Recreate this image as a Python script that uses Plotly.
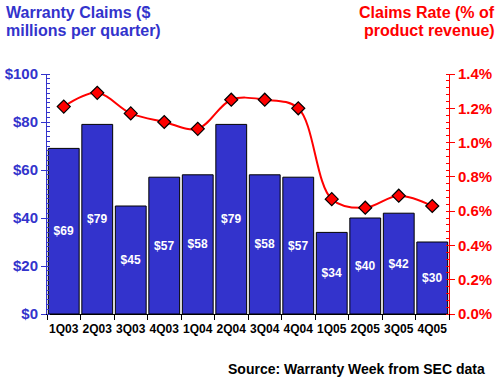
import plotly.graph_objects as go

quarters = ["1Q03", "2Q03", "3Q03", "4Q03", "1Q04", "2Q04", "3Q04", "4Q04",
            "1Q05", "2Q05", "3Q05", "4Q05"]
claims = [69, 79, 45, 57, 58, 79, 58, 57, 34, 40, 42, 30]
rate = [1.21, 1.29, 1.17, 1.12, 1.08, 1.25, 1.25, 1.20, 0.67, 0.62, 0.69, 0.63]

BLUE = "#3333CC"
RED = "#FF0000"
FONT = "Arial, Liberation Sans, sans-serif"

fig = go.Figure()
fig.add_trace(go.Bar(
    x=quarters, y=claims,
    marker=dict(color=BLUE, line=dict(color="black", width=1)),
    text=[f"${v}" for v in claims],
    textposition="inside", insidetextanchor="middle", textangle=0,
    textfont=dict(color="white", size=12, family=FONT, weight="bold"),
    hoverinfo="skip", showlegend=False,
))
fig.add_trace(go.Scatter(
    x=quarters, y=rate, yaxis="y2", mode="lines+markers",
    line=dict(color=RED, width=2, shape="spline", smoothing=1.0),
    marker=dict(symbol="diamond", size=10, color=RED,
                line=dict(color="black", width=1.2)),
    showlegend=False,
))

fig.update_layout(
    width=500, height=380,
    margin=dict(l=47, r=51, t=74, b=66, autoexpand=False),
    paper_bgcolor="white", plot_bgcolor="white",
    bargap=0.08,
    font=dict(family=FONT),
    xaxis=dict(
        showline=True, linecolor="black", linewidth=1,
        ticks="outside", tickson="boundaries", ticklen=5, tickcolor="black",
        tickangle=0, automargin=False, ticklabelstandoff=4,
        tickfont=dict(size=12, color="black", family=FONT, weight="bold"),
        showgrid=False, range=[-0.5, 11.5],
    ),
    yaxis=dict(
        range=[0, 100], dtick=20, tickprefix="$",
        showline=True, linecolor=BLUE, linewidth=1,
        ticks="outside", ticklen=5, tickcolor=BLUE, automargin=False,
        minor=dict(dtick=2, ticks="inside", ticklen=3, tickcolor=BLUE),
        tickfont=dict(size=15, color=BLUE, family=FONT, weight="bold"),
        showgrid=False, zeroline=False,
    ),
    yaxis2=dict(
        range=[0, 1.4], dtick=0.2, tickformat=".1f", ticksuffix="%",
        overlaying="y", side="right", automargin=False,
        showline=True, linecolor=RED, linewidth=1,
        ticks="outside", ticklen=5, tickcolor=RED,
        minor=dict(dtick=0.04, ticks="inside", ticklen=3, tickcolor=RED),
        tickfont=dict(size=15, color=RED, family=FONT, weight="bold"),
        showgrid=False, zeroline=False,
    ),
)

def px_x(px):
    return (px - 47) / 402

def px_y(py):
    return (314 - py) / 240

anns = [
    ("Warranty Claims ($", 4, 12, "left", BLUE),
    ("millions per quarter)", 4, 30, "left", BLUE),
    ("Claims Rate (% of", 497, 12, "right", RED),
    ("product revenue)", 497, 30, "right", RED),
]
for txt, x, y, anchor, col in anns:
    fig.add_annotation(
        text=txt, xref="paper", yref="paper", x=px_x(x), y=px_y(y),
        xanchor=anchor, yanchor="middle", showarrow=False,
        font=dict(size=16, color=col, family=FONT, weight="bold"),
    )
fig.add_annotation(
    text="Source: Warranty Week from SEC data", xref="paper", yref="paper",
    x=px_x(487), y=px_y(369), xanchor="right", yanchor="middle",
    showarrow=False,
    font=dict(size=14, color="black", family=FONT, weight="bold"),
)

fig.write_html("out.html",
               config={"displayModeBar": False},
               post_script="document.body.style.margin='0';document.body.style.padding='0';")
